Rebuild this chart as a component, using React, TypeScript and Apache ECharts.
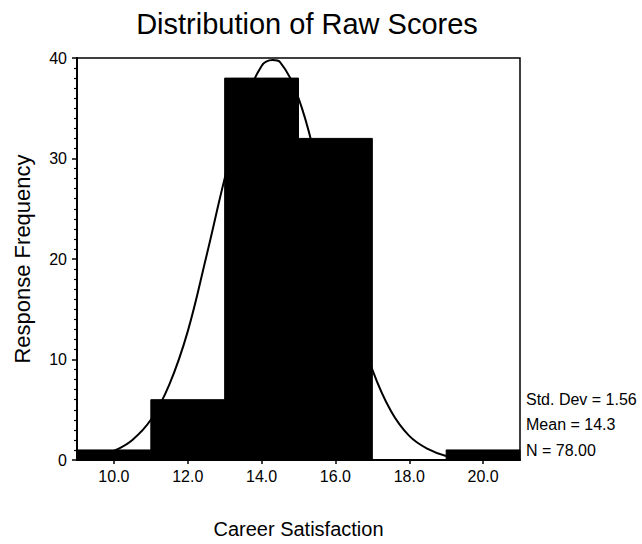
import React, { useEffect, useRef } from "react";
import * as echarts from "echarts";

// Histogram bins (Career Satisfaction) and their response frequencies
const binStarts = [9, 11, 13, 15, 17, 19];
const binEnds = [11, 13, 15, 17, 19, 21];
const binCounts = [1, 6, 38, 32, 0, 1];

// Fitted normal curve
const curveX = [9, 9.5, 10, 10.5, 11, 11.5, 12, 12.5, 13, 13.5, 14, 14.3, 14.5, 15, 15.5, 16, 16.5, 17, 17.5, 18, 18.5, 19, 19.5, 20, 20.5, 21];
const curveY = [0.1, 0.3, 0.9, 2.0, 4.0, 7.5, 12.8, 20.2, 28.0, 35.0, 39.2, 39.8, 39.6, 36.0, 29.5, 22.0, 14.8, 9.0, 4.9, 2.4, 1.1, 0.4, 0.15, 0.05, 0.02, 0];

// Tick labels
const xTickValues = [10, 12, 14, 16, 18, 20];
const statsLines = ["Std. Dev = 1.56", "Mean = 14.3", "N = 78.00"];

const FONT = "'Liberation Sans', Arial, Helvetica, sans-serif";

export default function App() {
  const ref = useRef<HTMLDivElement>(null);

  useEffect(() => {
    document.body.style.margin = "0";
    if (!ref.current) return;
    const chart = echarts.init(ref.current, null, { renderer: "svg" });

    const barData = binStarts.map((s, i) => [s, binEnds[i], binCounts[i]]);
    const curveData = curveX.map((x, i) => [x, curveY[i]]);

    const option: any = {
      animation: false,
      backgroundColor: "#ffffff",
      title: {
        text: "Distribution of Raw Scores",
        left: 302,
        top: 4,
        textAlign: "center",
        textStyle: { fontFamily: FONT, fontSize: 29, fontWeight: "normal", color: "#000" },
      },
      grid: {
        left: 77,
        right: 122,
        top: 58,
        bottom: 80,
        show: true,
        borderColor: "#000",
        borderWidth: 1.5,
        backgroundColor: "transparent",
      },
      xAxis: {
        type: "value",
        min: 9,
        max: 21,
        name: "Career Satisfaction",
        nameLocation: "middle",
        nameGap: 59,
        nameTextStyle: { fontFamily: FONT, fontSize: 20, color: "#000" },
        axisLine: { show: true, onZero: false, lineStyle: { color: "#000", width: 2 } },
        axisTick: { show: true, inside: false, length: 4, customValues: xTickValues, lineStyle: { color: "#000", width: 1.5 } },
        axisLabel: {
          customValues: xTickValues,
          margin: 8,
          fontFamily: FONT,
          fontSize: 16,
          color: "#000",
          formatter: (v: number) => v.toFixed(1),
        },
        splitLine: { show: false },
      },
      yAxis: {
        type: "value",
        min: 0,
        max: 40,
        interval: 10,
        name: "Response Frequency",
        nameLocation: "middle",
        nameGap: 44,
        nameTextStyle: { fontFamily: FONT, fontSize: 22, color: "#000" },
        axisLine: { show: true, lineStyle: { color: "#000", width: 2 } },
        axisTick: { show: true, inside: false, length: 5, lineStyle: { color: "#000", width: 1.5 } },
        minorTick: { show: true, splitNumber: 10, length: 3, lineStyle: { color: "#000", width: 1.2 } },
        axisLabel: { margin: 10, fontFamily: FONT, fontSize: 16, color: "#000" },
        splitLine: { show: false },
      },
      graphic: statsLines.map((t, i) => ({
        type: "text",
        left: 526,
        top: 391 + i * 25.5,
        style: { text: t, fontFamily: FONT, fontSize: 16, fill: "#000" },
      })),
      series: [
        {
          type: "line",
          data: curveData,
          smooth: 0.4,
          showSymbol: false,
          lineStyle: { color: "#000", width: 2 },
          z: 2,
        },
        {
          type: "custom",
          data: barData,
          encode: { x: [0, 1], y: 2 },
          z: 3,
          renderItem: (params: any, api: any) => {
            const p0 = api.coord([api.value(0), api.value(2)]);
            const p1 = api.coord([api.value(1), 0]);
            return {
              type: "rect",
              shape: { x: p0[0], y: p0[1], width: p1[0] - p0[0], height: p1[1] - p0[1] },
              style: { fill: "#000", stroke: "#000", lineWidth: 1 },
            };
          },
        },
      ],
    };

    chart.setOption(option);
    return () => chart.dispose();
  }, []);

  return <div ref={ref} style={{ width: 642, height: 544 }} />;
}
